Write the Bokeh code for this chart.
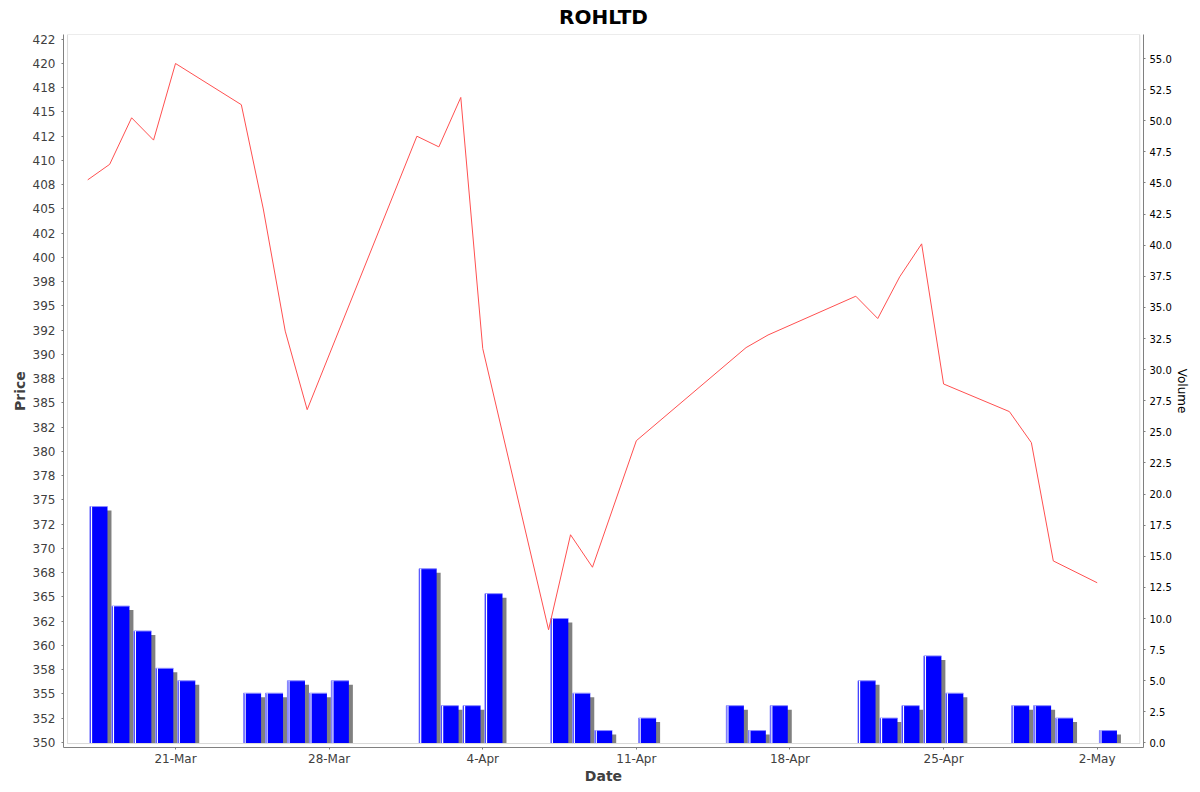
import pandas as pd

from bokeh.embed import file_html
from bokeh.models import (
    BoxAnnotation,
    ColumnDataSource,
    FixedTicker,
    LinearAxis,
    PrintfTickFormatter,
    Range1d,
)
from bokeh.plotting import figure
from bokeh.resources import INLINE

chart_title = "ROHLTD"

# closing price (no quote on 28-Mar and 15-Apr)
price_dates = [
    "2025-03-17", "2025-03-18", "2025-03-19", "2025-03-20", "2025-03-21",
    "2025-03-24", "2025-03-25", "2025-03-26", "2025-03-27",
    "2025-04-01", "2025-04-02", "2025-04-03", "2025-04-04",
    "2025-04-07", "2025-04-08", "2025-04-09", "2025-04-11",
    "2025-04-16", "2025-04-17",
    "2025-04-21", "2025-04-22", "2025-04-23", "2025-04-24", "2025-04-25",
    "2025-04-28", "2025-04-29", "2025-04-30", "2025-05-02",
]
price = [
    408.0, 409.6, 414.4, 412.1, 420.0,
    415.75, 405.0, 392.4, 384.3,
    412.5, 411.4, 416.5, 390.6,
    361.6, 371.4, 368.05, 381.1,
    390.7, 392.0,
    396.0, 393.7, 398.0, 401.4, 386.95,
    384.1, 380.9, 368.7, 366.45,
]

volume_dates = [
    "2025-03-17", "2025-03-18", "2025-03-19", "2025-03-20", "2025-03-21",
    "2025-03-24", "2025-03-25", "2025-03-26", "2025-03-27", "2025-03-28",
    "2025-04-01", "2025-04-02", "2025-04-03", "2025-04-04",
    "2025-04-07", "2025-04-08", "2025-04-09", "2025-04-11",
    "2025-04-15", "2025-04-16", "2025-04-17",
    "2025-04-21", "2025-04-22", "2025-04-23", "2025-04-24", "2025-04-25",
    "2025-04-28", "2025-04-29", "2025-04-30", "2025-05-02",
]
volume = [
    19, 11, 9, 6, 5,
    4, 4, 5, 4, 5,
    14, 3, 3, 12,
    10, 4, 1, 2,
    3, 1, 3,
    5, 2, 3, 7, 4,
    3, 3, 2, 1,
]

date_ticks = ["2025-03-21", "2025-03-28", "2025-04-04", "2025-04-11",
              "2025-04-18", "2025-04-25", "2025-05-02"]
date_tick_labels = ["21-Mar", "28-Mar", "4-Apr", "11-Apr", "18-Apr", "25-Apr", "2-May"]

price_ticks = [350.0, 352.5, 355.0, 357.5, 360.0, 362.5, 365.0, 367.5, 370.0, 372.5,
               375.0, 377.5, 380.0, 382.5, 385.0, 387.5, 390.0, 392.5, 395.0, 397.5,
               400.0, 402.5, 405.0, 407.5, 410.0, 412.5, 415.0, 417.5, 420.0, 422.5]
price_tick_labels = ["350", "352", "355", "358", "360", "362", "365", "368", "370", "372",
                     "375", "378", "380", "382", "385", "388", "390", "392", "395", "398",
                     "400", "402", "405", "408", "410", "412", "415", "418", "420", "422"]

volume_ticks = [0.0, 2.5, 5.0, 7.5, 10.0, 12.5, 15.0, 17.5, 20.0, 22.5, 25.0, 27.5,
                30.0, 32.5, 35.0, 37.5, 40.0, 42.5, 45.0, 47.5, 50.0, 52.5, 55.0]


def to_ms(dates):
    return list(pd.to_datetime(dates).values.astype("datetime64[ms]").astype("int64").astype(float))


DAY = 86400000.0
PX_DAY = 21.945      # pixels per day on the date axis
PX_VOL = 12.445      # pixels per volume unit
GREY = "#808080"
DARK = "#404040"
FONT = "DejaVu Sans"

t0 = to_ms(["2025-03-21"])[0]

p = figure(
    width=1197,
    height=790,
    x_axis_type="datetime",
    x_range=Range1d(t0 - 5.104 * DAY, t0 + 44.11 * DAY),
    y_range=Range1d(349.46, 422.99),
    output_backend="svg",
    toolbar_location=None,
    min_border_left=63,
    min_border_right=54,
    min_border_top=34,
    min_border_bottom=43,
)
p.extra_y_ranges = {"vol": Range1d(-0.362, 56.93)}
p.grid.visible = False
p.outline_line_color = None
p.background_fill_color = "white"
p.border_fill_color = "white"

p.title.text = chart_title
p.title.text_font = FONT
p.title.text_font_size = "20px"
p.title.text_font_style = "bold"
p.title.text_color = "black"
p.title.align = "center"
p.title.vertical_align = "top"
p.title.standoff = 7

# volume bars: shadow, body, highlight edges
vx = to_ms(volume_dates)
bar_l = [x + 0.1 * DAY for x in vx]
bar_r = [x + 0.9 * DAY for x in vx]
sh = 4 / PX_DAY * DAY
bars = ColumnDataSource(dict(
    left=bar_l,
    right=bar_r,
    top=volume,
    sleft=[x + sh for x in bar_l],
    sright=[x + sh for x in bar_r],
    stop=[v - 4 / PX_VOL for v in volume],
    hx=[x + 1.6 / PX_DAY * DAY for x in bar_l],
    zero=[0] * len(volume),
))
p.quad(left="sleft", right="sright", bottom="zero", top="stop", source=bars,
       y_range_name="vol", fill_color=GREY, line_color=None)
p.quad(left="left", right="right", bottom="zero", top="top", source=bars,
       y_range_name="vol", fill_color="#0000ff", line_color=None)
p.segment(x0="left", y0="zero", x1="left", y1="top", source=bars,
          y_range_name="vol", line_color="#8a8aff", line_width=1)
p.segment(x0="left", y0="top", x1="right", y1="top", source=bars,
          y_range_name="vol", line_color="#8a8aff", line_width=1)
p.segment(x0="hx", y0="zero", x1="hx", y1="top", source=bars,
          y_range_name="vol", line_color="white", line_width=1.2)

# price line
p.line(to_ms(price_dates), price, line_color="#ff5050", line_width=1)

# inner plot border (axes sit a few pixels outside it)
p.add_layout(BoxAnnotation(
    left=t0 - 4.921 * DAY, right=t0 + 43.94 * DAY, bottom=349.87,
    fill_alpha=0, line_color=GREY, line_width=1,
))

# date axis
xa = p.xaxis[0]
xa.ticker = FixedTicker(ticks=to_ms(date_ticks))
xa.major_label_overrides = dict(zip(to_ms(date_ticks), date_tick_labels))
xa.axis_label = "Date"
xa.axis_label_standoff = -1
xa.major_label_standoff = 2

# price axis
ya = p.yaxis[0]
ya.ticker = FixedTicker(ticks=price_ticks)
ya.major_label_overrides = dict(zip(price_ticks, price_tick_labels))
ya.axis_label = "Price"
ya.major_label_standoff = 6
ya.axis_label_standoff = 2

for ax in (xa, ya):
    ax.axis_line_color = GREY
    ax.major_tick_line_color = GREY
    ax.major_tick_in = 0
    ax.major_tick_out = 2
    ax.minor_tick_line_color = None
    ax.major_label_text_font = FONT
    ax.major_label_text_font_size = "12px"
    ax.major_label_text_color = DARK
    ax.axis_label_text_font = FONT
    ax.axis_label_text_font_size = "14px"
    ax.axis_label_text_font_style = "bold"
    ax.axis_label_text_color = DARK

# volume axis
va = LinearAxis(y_range_name="vol", axis_label="Volume")
va.ticker = FixedTicker(ticks=volume_ticks)
va.formatter = PrintfTickFormatter(format="%.1f")
va.axis_line_color = GREY
va.major_tick_line_color = GREY
va.major_tick_in = 0
va.major_tick_out = 2
va.minor_tick_line_color = None
va.major_label_standoff = 4
va.major_label_text_font = FONT
va.major_label_text_font_size = "10px"
va.major_label_text_color = "black"
va.axis_label_text_font = FONT
va.axis_label_text_font_size = "12px"
va.axis_label_text_font_style = "normal"
va.axis_label_text_color = "black"
va.axis_label_standoff = 0
p.add_layout(va, "right")

open("out.html", "w").write(file_html(p, INLINE))
